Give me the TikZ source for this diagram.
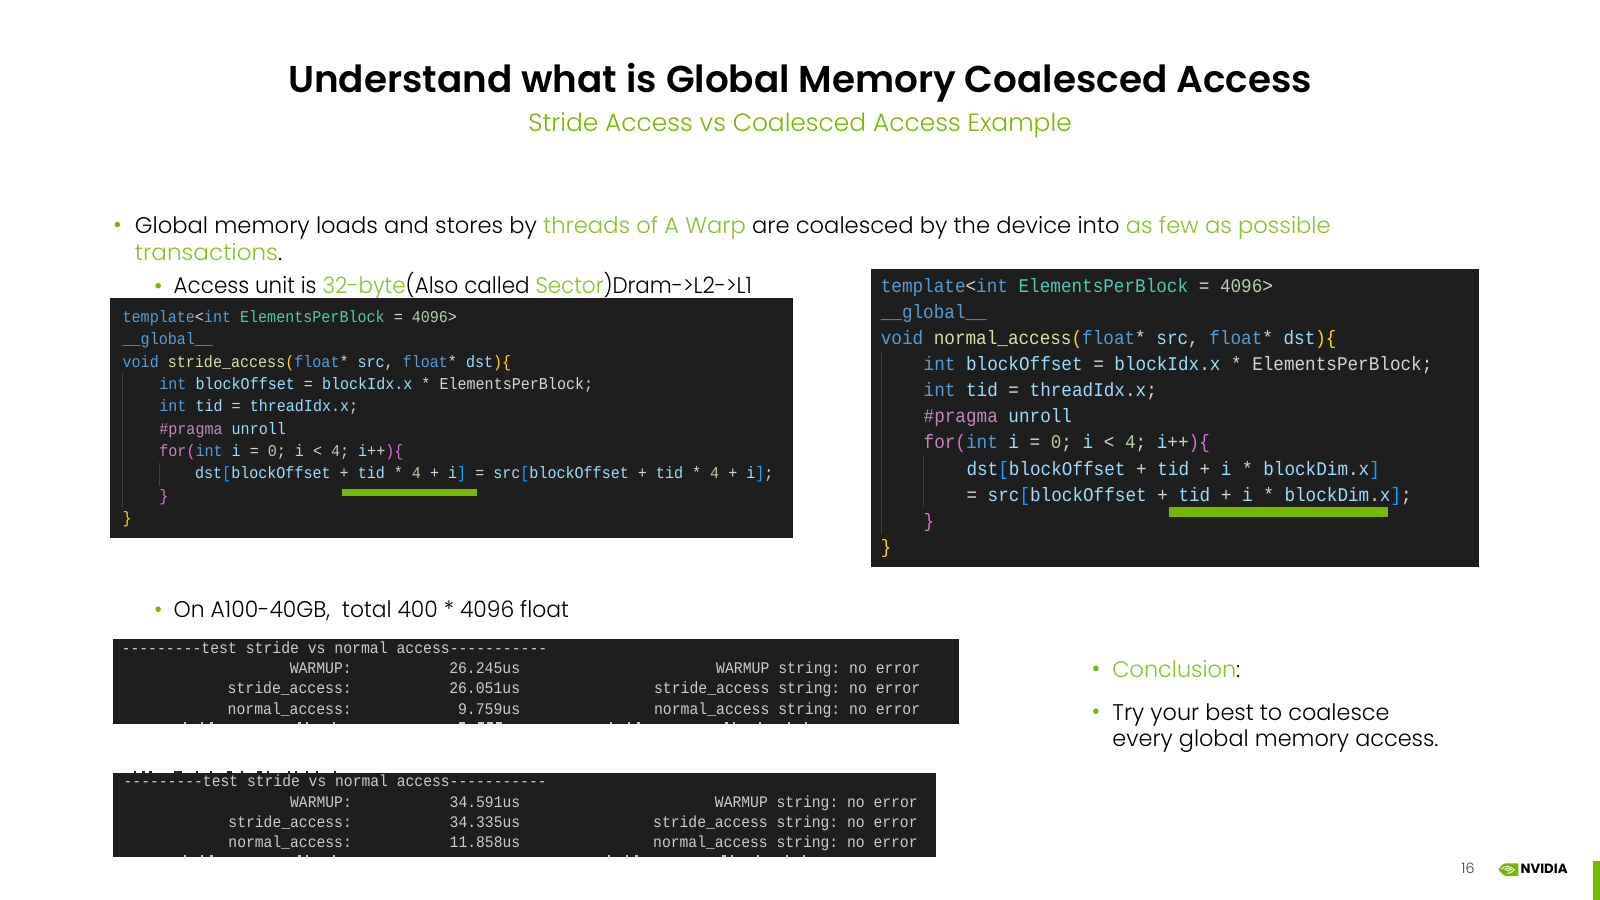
\documentclass[tikz,border=0pt]{standalone}
\usepackage{fontspec}
\setmainfont{Poppins}[UprightFont=* Light,BoldFont=* SemiBold]
\newfontfamily\codefam{Liberation Mono}[FakeStretch=0.911]
\newfontfamily\logofam{Poppins Bold}
\definecolor{nvgreen}{HTML}{76B900}
\definecolor{lightgreen}{HTML}{86C22A}
\definecolor{panel}{HTML}{1E1E1E}
\definecolor{kw}{HTML}{569CD6}
\definecolor{fn}{HTML}{DCDCAA}
\definecolor{ty}{HTML}{4EC9B0}
\definecolor{va}{HTML}{9CDCFE}
\definecolor{nu}{HTML}{B5CEA8}
\definecolor{ct}{HTML}{C586C0}
\definecolor{go}{HTML}{FFD700}
\definecolor{br}{HTML}{179FFF}
\definecolor{pk}{HTML}{DA70D6}
\definecolor{df}{HTML}{D4D4D4}
\definecolor{guide}{HTML}{404040}
\definecolor{con}{HTML}{CCCCCC}
\newcommand{\K}[1]{\textcolor{kw}{#1}}
\newcommand{\F}[1]{\textcolor{fn}{#1}}
\newcommand{\T}[1]{\textcolor{ty}{#1}}
\newcommand{\V}[1]{\textcolor{va}{#1}}
\newcommand{\N}[1]{\textcolor{nu}{#1}}
\newcommand{\C}[1]{\textcolor{ct}{#1}}
\newcommand{\G}[1]{\textcolor{go}{#1}}
\newcommand{\B}[1]{\textcolor{br}{#1}}
\newcommand{\Pk}[1]{\textcolor{pk}{#1}}
\newcommand{\Gr}[1]{\textcolor{lightgreen}{#1}}
\newcommand{\hs}[2]{\scalebox{#1}[1]{#2}}
% shared code lines
\newcommand{\lnA}{\K{template}<\K{int} \T{ElementsPerBlock} = \N{4096}>}
\newcommand{\lnB}{\K{\_\_global\_\_}}
\newcommand{\lnD}{\K{int} \V{blockOffset} = \V{blockIdx}.\V{x} * ElementsPerBlock;}
\newcommand{\lnE}{\K{int} \V{tid} = \V{threadIdx}.\V{x};}
\newcommand{\lnF}{\C{\#pragma} \V{unroll}}
\newcommand{\lnG}{\C{for}\Pk{(}\K{int} \V{i} = \N{0}; \V{i} < \N{4}; \V{i}++\Pk{)}\Pk{\{}}
\tikzset{
  base/.style={inner sep=0pt,anchor=base west},
  codea/.style={base,text=df,font=\fontsize{16.2}{16.2}\selectfont\codefam\frenchspacing},
  codeb/.style={base,text=df,font=\fontsize{19}{19}\selectfont\codefam\frenchspacing},
  cona/.style={inner sep=0pt,anchor=base east,text=con,font=\fontsize{15.9}{15.9}\selectfont\codefam\frenchspacing},
  conb/.style={inner sep=0pt,anchor=base east,text=con,font=\fontsize{15.8}{15.8}\selectfont\codefam\frenchspacing},
  bodytext/.style={base,font=\fontsize{22.2}{22.2}\selectfont},
  dot/.style={circle,fill=nvgreen,inner sep=0pt,minimum size=5.5pt},
  panelbox/.style={fill=panel,draw=none},
  barbox/.style={fill=nvgreen,draw=none},
  guideline/.style={draw=guide,line width=1pt},
}
\begin{document}
\begin{tikzpicture}[x=1pt,y=-1pt]
\useasboundingbox (0,0) rectangle (1568,882);
% Title
\node[anchor=base] (title) at (784,91) {\fontsize{36.6}{36.6}\selectfont\bfseries Understand what is Global Memory Coalesced Access};
\node[anchor=base,text=nvgreen] (sub) at (784,129) {\fontsize{24.4}{24.4}\selectfont Stride Access vs Coalesced Access Example};
% Body text
\node[dot] (d1) at (115,220) {};
\node[bodytext] (t1) at (132,229) {Global memory loads and stores by \Gr{threads of A Warp} are coalesced by the device into \Gr{as few as possible}};
\node[bodytext] (t2) at (132,255) {\hs{1.02}{\Gr{transactions}.}};
\node[dot] (d2) at (155,280) {};
\node[bodytext] (t3) at (170,288) {\hs{.948}{Access unit is \Gr{32-byte}(Also called \Gr{Sector})Dram->L2->L1}};
\node[dot] (d3) at (155,597) {};
\node[bodytext] (t4) at (170,605) {\hs{.964}{On A100-40GB,\ \ total 400 * 4096 float}};
\node[dot] (d4) at (1074,655) {};
\node[bodytext] (t5) at (1090,664) {\hs{.987}{\Gr{Conclusion}:}};
\node[dot] (d5) at (1074,697) {};
\node[bodytext] (t6) at (1090,706) {\hs{.987}{Try your best to coalesce}};
\node[bodytext] (t7) at (1090,732) {\hs{.987}{every global memory access.}};
% Clipped black tops of a line hidden behind the lower console
\foreach \xx/\ww in {131/2,139/3,146/3,171/7,192/2,206/2,222/5,236/2,252/5,262/2,282/2,289/2,300/2,310/2,327/2}
  \fill[black!85] (\xx,756) rectangle (\xx+\ww,758);
% Panel 1
\fill[panelbox] (108,292) rectangle (777,527);
\draw[guideline] (120.5,366) -- (120.5,497);
\draw[guideline] (156.5,453.5) -- (156.5,476);
\node[codea] (a0) at (120,316) {\lnA};
\node[codea] (a1) at (120,337.9) {\lnB};
\node[codea] (a2) at (120,359.8) {\K{void} \F{stride\_access}\G{(}\K{float}* \V{src}, \K{float}* \V{dst}\G{)}\G{\{}};
\node[codea] (a3) at (156,381.7) {\lnD};
\node[codea] (a4) at (156,403.6) {\lnE};
\node[codea] (a5) at (156,425.5) {\lnF};
\node[codea] (a6) at (156,447.4) {\lnG};
\node[codea] (a7) at (191,469.3) {\V{dst}\B{[}\V{blockOffset} + \V{tid} * \N{4} + \V{i}\B{]} = \V{src}\B{[}\V{blockOffset} + \V{tid} * \N{4} + \V{i}\B{]};};
\node[codea] (a8) at (156,491.2) {\Pk{\}}};
\node[codea] (a9) at (120,513.1) {\G{\}}};
\fill[barbox] (335,479) rectangle (467,486);
% Panel 2
\fill[panelbox] (854,264) rectangle (1449,555.5);
\draw[guideline] (864,346) -- (864,523);
\draw[guideline] (905,447.5) -- (905,497);
\node[codeb] (b0) at (863,287) {\lnA};
\node[codeb] (b1) at (863,312.5) {\lnB};
\node[codeb] (b2) at (863,338) {\K{void} \F{normal\_access}\G{(}\K{float}* \V{src}, \K{float}* \V{dst}\G{)}\G{\{}};
\node[codeb] (b3) at (905,363.5) {\lnD};
\node[codeb] (b4) at (905,389) {\lnE};
\node[codeb] (b5) at (905,414.5) {\lnF};
\node[codeb] (b6) at (905,440) {\lnG};
\node[codeb] (b7) at (947,465.5) {\V{dst}\B{[}\V{blockOffset} + \V{tid} + \V{i} * \V{blockDim}.\V{x}\B{]}};
\node[codeb] (b8) at (947,491) {= \V{src}\B{[}\V{blockOffset} + \V{tid} + \V{i} * \V{blockDim}.\V{x}\B{]};};
\node[codeb] (b9) at (905,516.5) {\Pk{\}}};
\node[codeb] (b10) at (863,542) {\G{\}}};
\fill[barbox] (1146,497) rectangle (1360,507);
% Console 1
\fill[panelbox] (111,626.5) rectangle (940,710);
\node[cona,anchor=base west] (c0) at (119,640) {---------test stride vs normal access-----------};
\node[cona] (c1) at (345,660) {WARMUP:};
\node[cona] (c2) at (510,660) {26.245us};
\node[cona] (c3) at (902,660) {WARMUP string: no error};
\node[cona] (c4) at (345,680) {stride\_access:};
\node[cona] (c5) at (510,680) {26.051us};
\node[cona] (c6) at (902,680) {stride\_access string: no error};
\node[cona] (c7) at (345,700) {normal\_access:};
\node[cona] (c8) at (510,700) {9.759us};
\node[cona] (c9) at (902,700) {normal\_access string: no error};
\foreach \xx/\ww in {180/2,197/2,206/3,292/3,300/2,326/2,450/6,468/6,477/6,486/6,598/2,615/2,624/3,710/3,718/2,744/2,772/2,789/2}
  \fill[con] (\xx,708) rectangle (\xx+\ww,710);
% Console 2
\fill[panelbox] (111,758) rectangle (917,839.5);
\node[conb,anchor=base west] (e0) at (121,771) {---------test stride vs normal access-----------};
\node[conb] (e1) at (345,791) {WARMUP:};
\node[conb] (e2) at (510,791) {34.591us};
\node[conb] (e3) at (899.5,791) {WARMUP string: no error};
\node[conb] (e4) at (345,811) {stride\_access:};
\node[conb] (e5) at (510,811) {34.335us};
\node[conb] (e6) at (899.5,811) {stride\_access string: no error};
\node[conb] (e7) at (345,831) {normal\_access:};
\node[conb] (e8) at (510,831) {11.858us};
\node[conb] (e9) at (899.5,831) {normal\_access string: no error};
\foreach \xx/\ww in {180/2,197/2,206/3,292/3,300/2,326/2,596/2,613/2,622/3,708/3,716/2,742/2,770/2,787/2}
  \fill[con] (\xx,837.5) rectangle (\xx+\ww,839.5);
% Footer
\node[base,text=black!75] (pg) at (1432,856) {\fontsize{14}{14}\selectfont 16};
\fill[nvgreen] (1475.5,846) -- (1488,846) -- (1488,858.5) -- (1475.5,858.5) .. controls (1472,857) and (1470,854) .. (1468.5,852) .. controls (1470,849.5) and (1472,847) .. (1475.5,846) -- cycle;
\draw[white,line width=.8pt] (1471,852) .. controls (1474,848) and (1480,848) .. (1484,852.5) .. controls (1481,855) and (1479,856) .. (1477,856);
\draw[white,line width=.8pt] (1474.5,852) .. controls (1476,850) and (1479,850) .. (1481,852) .. controls (1479,854) and (1476,854) .. (1476,852);
\node[base] (logo) at (1490,856.5) {\resizebox{46pt}{9.2pt}{\logofam NVIDIA}};
\fill[barbox] (1561,844) rectangle (1568,882);
\end{tikzpicture}
\end{document}
